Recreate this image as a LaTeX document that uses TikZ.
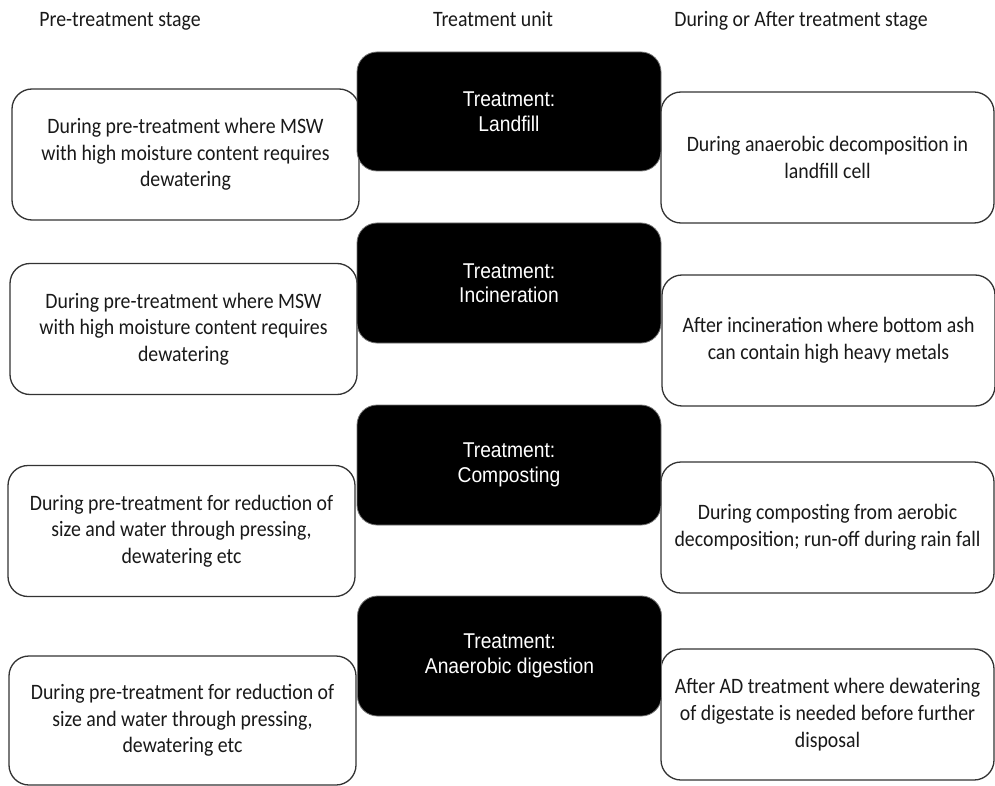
\documentclass[tikz,border=0pt]{standalone}
\usepackage{fontspec}
\setmainfont{Carlito}[FakeStretch=0.9]
\newfontfamily\boxfont{Liberation Sans}[FakeStretch=0.9]
\begin{document}
\begin{tikzpicture}[x=1pt,y=-1pt,
  sidebox/.style={draw=black!80, line width=1.3pt, rounded corners=20pt, fill=white,
    align=center, font=\fontsize{22}{26.7}\selectfont, text=black!90, inner sep=0pt,
    minimum height=131pt},
  leftbox/.style={sidebox, minimum width=347pt},
  rightbox/.style={sidebox, minimum width=333pt},
  unitbox/.style={draw=black!55, line width=0.8pt, fill=black, rounded corners=20pt,
    align=center, text=white, font=\boxfont\fontsize{21.4}{24.5}\selectfont,
    inner sep=0pt, minimum width=304pt, minimum height=119pt},
  header/.style={font=\fontsize{22}{26.7}\selectfont, text=black!90, anchor=base, inner sep=0pt}]
\useasboundingbox (0,0) rectangle (995,786);

% headers
\node[header] (hpre) at (120,27) {Pre-treatment stage};
\node[header] (hunit) at (493,27) {Treatment unit};
\node[header] (hpost) at (801,27) {During or After treatment stage};

% left boxes
\node[leftbox] (l1) at (185.5,154.5) {During pre-treatment where MSW\\with high moisture content requires\\dewatering};
\node[leftbox] (l2) at (183.5,329) {During pre-treatment where MSW\\with high moisture content requires\\dewatering};
\node[leftbox] (l3) at (181.5,531) {During pre-treatment for reduction of\\size and water through pressing,\\dewatering etc};
\node[leftbox, minimum height=129pt] (l4) at (182.5,720.5) {During pre-treatment for reduction of\\size and water through pressing,\\dewatering etc};

% right boxes
\node[rightbox] (r1) at (827.5,157.5) {During anaerobic decomposition in\\landfill cell};
\node[rightbox] (r2) at (828.5,340.5) {After incineration where bottom ash\\can contain high heavy metals};
\node[rightbox] (r3) at (827.5,527.5) {During composting from aerobic\\decomposition; run-off during rain fall};
\node[rightbox] (r4) at (827.5,714.5) {After AD treatment where dewatering\\of digestate is needed before further\\disposal};

% treatment units
\node[unitbox] (u1) at (509,111.5) {Treatment:\\Landfill};
\node[unitbox, minimum height=120pt] (u2) at (509,283) {Treatment:\\Incineration};
\node[unitbox, minimum height=120pt] (u3) at (509,465) {Treatment:\\Composting};
\node[unitbox, minimum height=120pt] (u4) at (509.5,656) {Treatment:\\Anaerobic digestion};
\end{tikzpicture}
\end{document}
